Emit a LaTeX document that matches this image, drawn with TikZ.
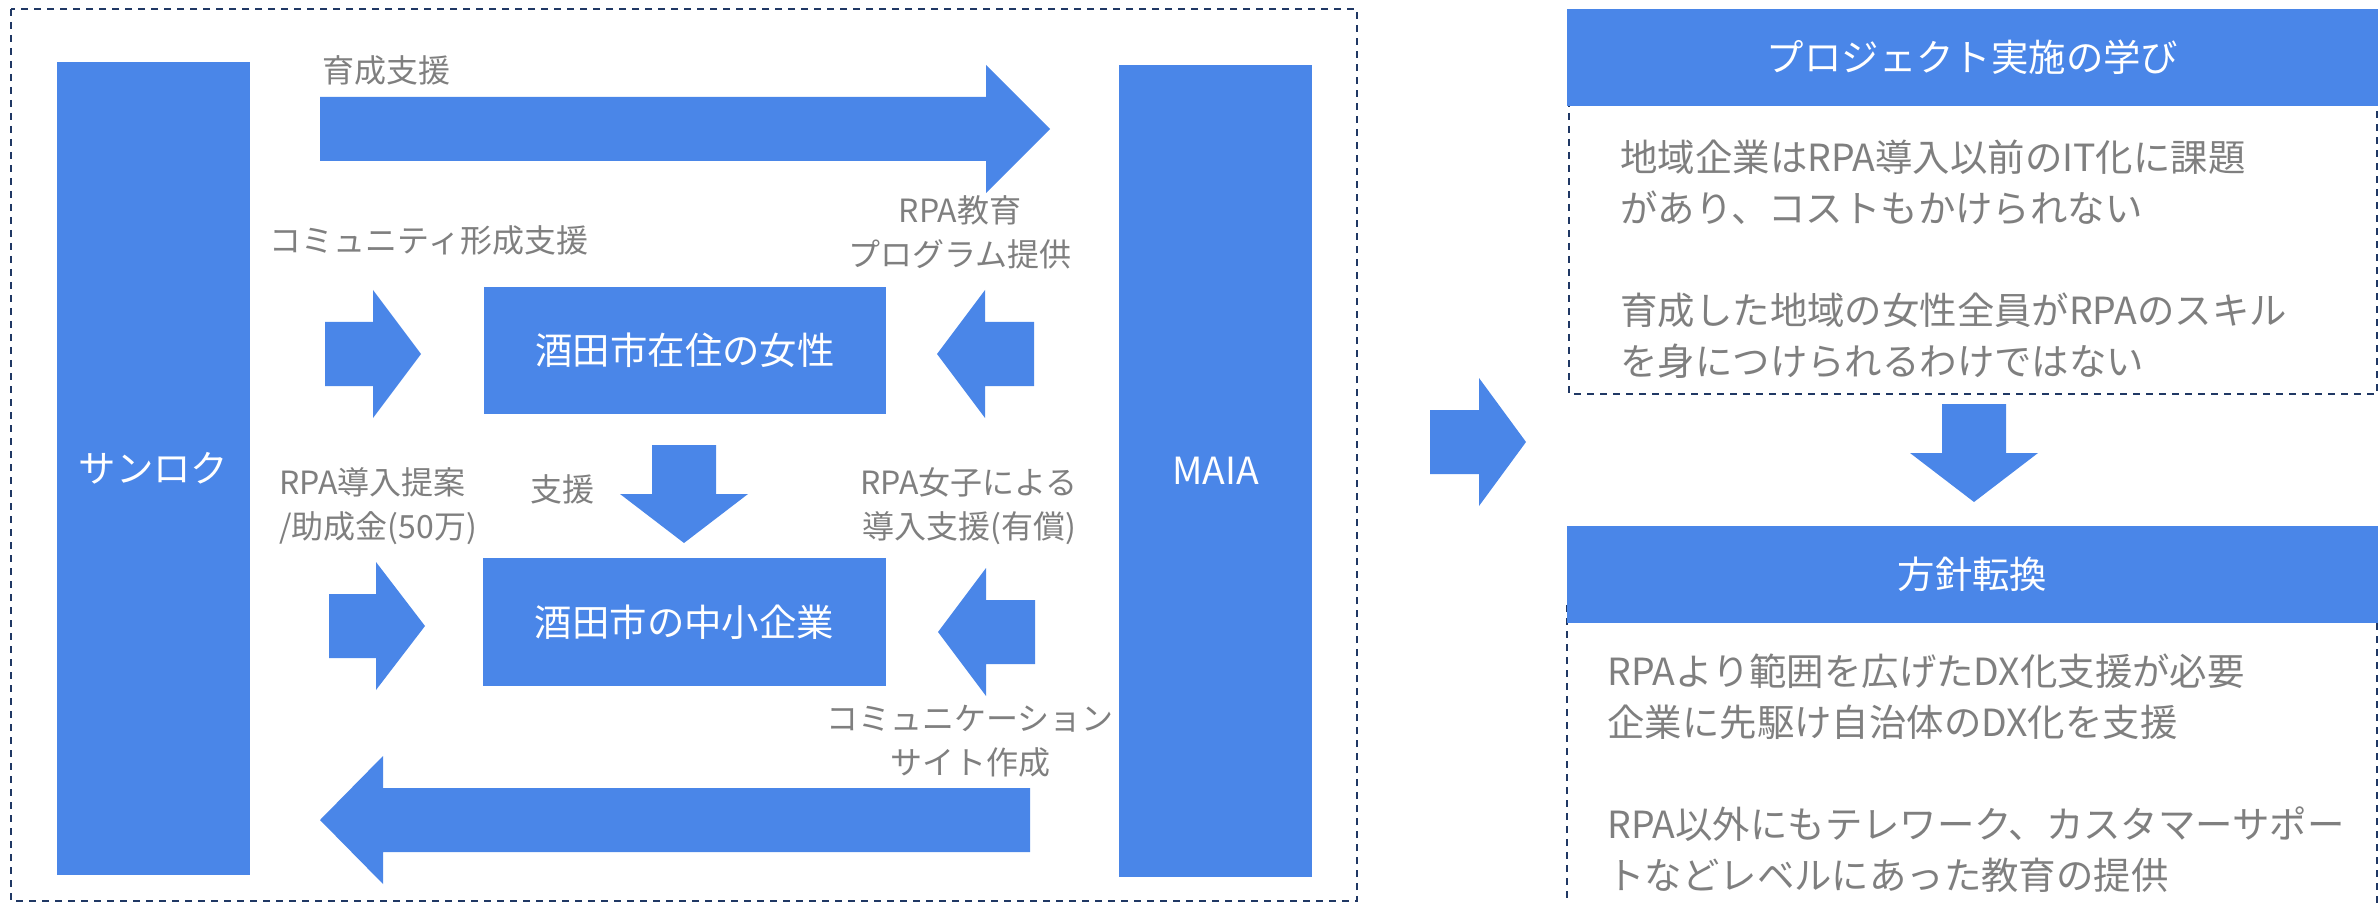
\documentclass[tikz,border=0pt]{standalone}
\usepackage{fontspec}
\setmainfont{Noto Sans CJK JP}
\definecolor{mainblue}{HTML}{4A86E8}
\definecolor{labelgray}{HTML}{7F7F7F}
\definecolor{framenavy}{HTML}{203864}

\begin{document}
\begin{tikzpicture}[x=0.5pt, y=-0.5pt, bar/.style={rectangle, fill=mainblue, inner sep=0pt, text=white, font={\fontsize{18.7pt}{22pt}\selectfont}}, barrow/.style={fill=mainblue}, lbl/.style={text=labelgray, inner sep=0pt, align=center, font={\fontsize{16pt}{22pt}\selectfont}}, note/.style={text=labelgray, inner sep=0pt, align=left, anchor=west, font={\fontsize{18.7pt}{25.5pt}\selectfont}}, frame/.style={draw=framenavy, line width=1pt, dash pattern=on 3.5pt off 3pt}]
  \useasboundingbox (0,0) rectangle (2380,903);

  % left part
  \draw[frame] (11,9) rectangle (1357,901);
  \node[bar, minimum width=96.5pt, minimum height=406.5pt] (sanroku) at (153.5,468.5) {サンロク};
  \node[bar, minimum width=96.5pt, minimum height=406pt] (maia) at (1215.5,471) {MAIA};
  \node[bar, minimum width=201pt, minimum height=63.5pt] (women) at (685,350.5) {酒田市在住の女性};
  \node[bar, minimum width=201.5pt, minimum height=64pt] (sme) at (684.5,622) {酒田市の中小企業};

  \fill[barrow] (320,97) -- (986,97) -- (986,65) -- (1050,129) -- (986,193) -- (986,161) -- (320,161) -- cycle;
  \node[lbl, anchor=west] (trainlbl) at (322,70) {育成支援};

  \fill[barrow] (325,322) -- (373,322) -- (373,290) -- (421,354) -- (373,418) -- (373,386) -- (325,386) -- cycle;
  \node[lbl] (communitylbl) at (429,240) {コミュニティ形成支援};
  \fill[barrow] (1034,322) -- (985,322) -- (985,290) -- (937,354) -- (985,418) -- (985,386) -- (1034,386) -- cycle;
  \node[lbl] (edulbl) at (960,232) {RPA教育\\プログラム提供};

  \fill[barrow] (652,445) -- (716,445) -- (716,494) -- (748,494) -- (684,543) -- (620,494) -- (652,494) -- cycle;
  \node[lbl] (supportlbl) at (562,489) {支援};

  \fill[barrow] (329,594) -- (376,594) -- (376,562) -- (425,626) -- (376,690) -- (376,658) -- (329,658) -- cycle;
  \node[lbl, align=left, anchor=west] (proposallbl) at (279,506) {RPA導入提案\\/助成金(50万)};
  \fill[barrow] (1035,600) -- (986,600) -- (986,568) -- (938,632) -- (986,696) -- (986,664) -- (1035,664) -- cycle;
  \node[lbl] (rpagirllbl) at (969,506) {RPA女子による\\導入支援(有償)};

  \fill[barrow] (1030,788) -- (383,788) -- (383,756) -- (320,820) -- (383,884) -- (383,852) -- (1030,852) -- cycle;
  \node[lbl] (sitelbl) at (970,741) {コミュニケーション\\サイト作成};

  % middle arrow
  \fill[barrow] (1430,410) -- (1479,410) -- (1479,378) -- (1526,442) -- (1479,506) -- (1479,474) -- (1430,474) -- cycle;

  % right part
  \draw[frame] (1569,100) -- (1569,394) -- (2377,394) -- (2377,100);
  \draw[frame] (1567,605) -- (1567,910);
  \draw[frame] (2377,610) -- (2377,910);
  \node[bar, minimum width=405.5pt, minimum height=48.5pt] (lesson) at (1972.5,57.5) {プロジェクト実施の学び};
  \node[note] (lessontext) at (1620,259) {地域企業はRPA導入以前のIT化に課題\\があり、コストもかけられない\\[25.5pt]育成した地域の女性全員がRPAのスキル\\を身につけられるわけではない};

  \fill[barrow] (1942,404) -- (2006,404) -- (2006,453) -- (2038,453) -- (1974,502) -- (1910,453) -- (1942,453) -- cycle;

  \node[bar, minimum width=405.5pt, minimum height=48.5pt] (shift) at (1972.5,574.5) {方針転換};
  \node[note] (shifttext) at (1607,773.5) {RPAより範囲を広げたDX化支援が必要\\企業に先駆け自治体のDX化を支援\\[25.5pt]RPA以外にもテレワーク、カスタマーサポー\\トなどレベルにあった教育の提供};

\end{tikzpicture}
\end{document}
